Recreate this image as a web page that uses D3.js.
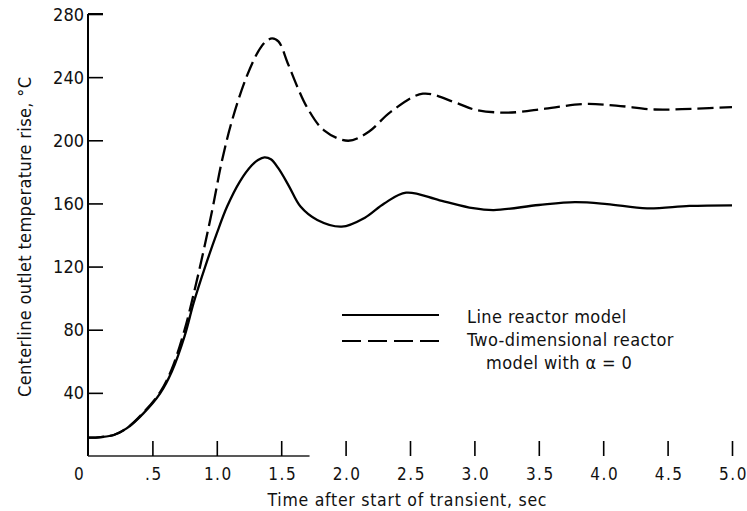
<!DOCTYPE html>
<html>
<head>
<meta charset="utf-8">
<script src="https://cdn.jsdelivr.net/npm/d3@7"></script>
<style>
  body { margin: 0; background: #fff; }
  text { font-family: "Liberation Sans Narrow", "DejaVu Sans Condensed", sans-serif; fill: #111; }
</style>
</head>
<body>
<div id="chart"></div>
<script>
(function(){

// line reactor model (solid)
const solidTime = [0, 0.1, 0.2, 0.3, 0.43, 0.56, 0.65, 0.75, 0.82, 0.91, 1.0, 1.08, 1.18, 1.27, 1.32, 1.37, 1.42, 1.48, 1.56, 1.65, 1.78, 1.97, 2.15, 2.3, 2.47, 2.73, 2.99, 3.15, 3.5, 3.78, 4.03, 4.34, 4.67, 5.0];
const solidTemp = [11.6, 12, 13.3, 17.5, 27, 39.7, 53.4, 76, 97, 120, 141, 158, 174, 184, 187.5, 189.2, 188, 182, 171, 158, 149.5, 145.3, 151, 160, 166.8, 162, 157, 155.8, 159, 160.8, 159.6, 156.9, 158.4, 158.8];

// two-dimensional reactor model, alpha = 0 (dashed)
const dashTime = [0, 0.1, 0.2, 0.3, 0.43, 0.56, 0.65, 0.75, 0.83, 0.9, 0.97, 1.04, 1.12, 1.23, 1.32, 1.38, 1.43, 1.48, 1.55, 1.63, 1.7, 1.83, 2.02, 2.18, 2.35, 2.6, 2.85, 3.0, 3.25, 3.55, 3.85, 4.1, 4.4, 4.7, 5.0];
const dashTemp = [11.6, 12, 13.3, 17.5, 27.5, 40.5, 55, 80, 106, 131, 158, 187, 213, 240, 256, 262.5, 264.6, 262.5, 249, 233, 221, 206.5, 199.7, 205.4, 218, 229.5, 224, 219.5, 217.5, 220, 223, 222, 219.5, 220, 221];

const xTicks = [0, 0.5, 1.0, 1.5, 2.0, 2.5, 3.0, 3.5, 4.0, 4.5, 5.0];
const yTicks = [40, 80, 120, 160, 200, 240, 280];

const legendLabels = ["Line reactor model", "Two-dimensional reactor", "model with  \u03b1 = 0"];

const width = 747;
const height = 511;

const svg = d3.select("#chart")
  .append("svg")
  .attr("width", width)
  .attr("height", height);

const x = d3.scaleLinear().domain([0, 5]).range([88, 732]);
const y = d3.scaleLinear().domain([0, 280]).range([456, 14]);

// y axis, ticks pointing inward
const yAxis = svg.append("g")
  .attr("transform", `translate(${x(0)},0)`)
  .call(d3.axisLeft(y).tickValues(yTicks).tickSize(-15).tickSizeOuter(0).tickPadding(4));
yAxis.select(".domain").attr("stroke-width", 2).attr("d", `M0,${y(280)}H15M0,${y(280)}V${y(0)}`);
yAxis.selectAll(".tick line").attr("stroke-width", 1.6);
yAxis.selectAll(".tick text").attr("font-size", 18).attr("dy", "0.34em");

// x axis: short baseline, floating ticks
svg.append("line")
  .attr("x1", x(0)).attr("x2", x(1.72))
  .attr("y1", y(0)).attr("y2", y(0))
  .attr("stroke", "#222").attr("stroke-width", 1.6);

const xAxis = svg.append("g")
  .attr("transform", `translate(0,${y(0)})`)
  .call(d3.axisBottom(x).tickValues(xTicks).tickSize(-15).tickPadding(12)
    .tickFormat(d => d === 0 ? "0" : d < 1 ? ".5" : d.toFixed(1)));
xAxis.select(".domain").remove();
xAxis.selectAll(".tick line").attr("stroke-width", 1.6).attr("opacity", d => d === 0 ? 0 : 1);
xAxis.selectAll(".tick text")
  .attr("font-size", 17)
  .attr("letter-spacing", 1.5)
  .attr("x", d => d === 0 ? -9 : 1);

// axis titles
svg.append("text")
  .attr("x", 407).attr("y", 506)
  .attr("text-anchor", "middle")
  .attr("font-size", 17.5)
  .attr("textLength", 279)
  .text("Time after start of transient,  sec");

svg.append("text")
  .attr("transform", "translate(31,237) rotate(-90)")
  .attr("text-anchor", "middle")
  .attr("font-size", 18)
  .attr("textLength", 320)
  .text("Centerline outlet temperature rise,  \u00b0C");

// curves
const line = d3.line()
  .x(d => x(d[0]))
  .y(d => y(d[1]))
  .curve(d3.curveCatmullRom.alpha(0.5));

svg.append("path")
  .datum(d3.zip(solidTime, solidTemp))
  .attr("fill", "none")
  .attr("stroke", "#000")
  .attr("stroke-width", 2.3)
  .attr("d", line);

svg.append("path")
  .datum(d3.zip(dashTime, dashTemp))
  .attr("fill", "none")
  .attr("stroke", "#000")
  .attr("stroke-width", 2.3)
  .attr("stroke-dasharray", "16,6")
  .attr("d", line);

// legend
const legend = svg.append("g");
legend.append("line")
  .attr("x1", 342).attr("x2", 439).attr("y1", 315).attr("y2", 315)
  .attr("stroke", "#000").attr("stroke-width", 2);
legend.append("line")
  .attr("x1", 342).attr("x2", 439).attr("y1", 341).attr("y2", 341)
  .attr("stroke", "#000").attr("stroke-width", 2)
  .attr("stroke-dasharray", "19,7");

legend.selectAll("text")
  .data(legendLabels)
  .enter()
  .append("text")
  .attr("x", (d, i) => i === 2 ? 486 : 467)
  .attr("y", (d, i) => 323 + i * 23)
  .attr("font-size", 18)
  .attr("letter-spacing", 0.4)
  .text(d => d);

})();
</script>
</body>
</html>
